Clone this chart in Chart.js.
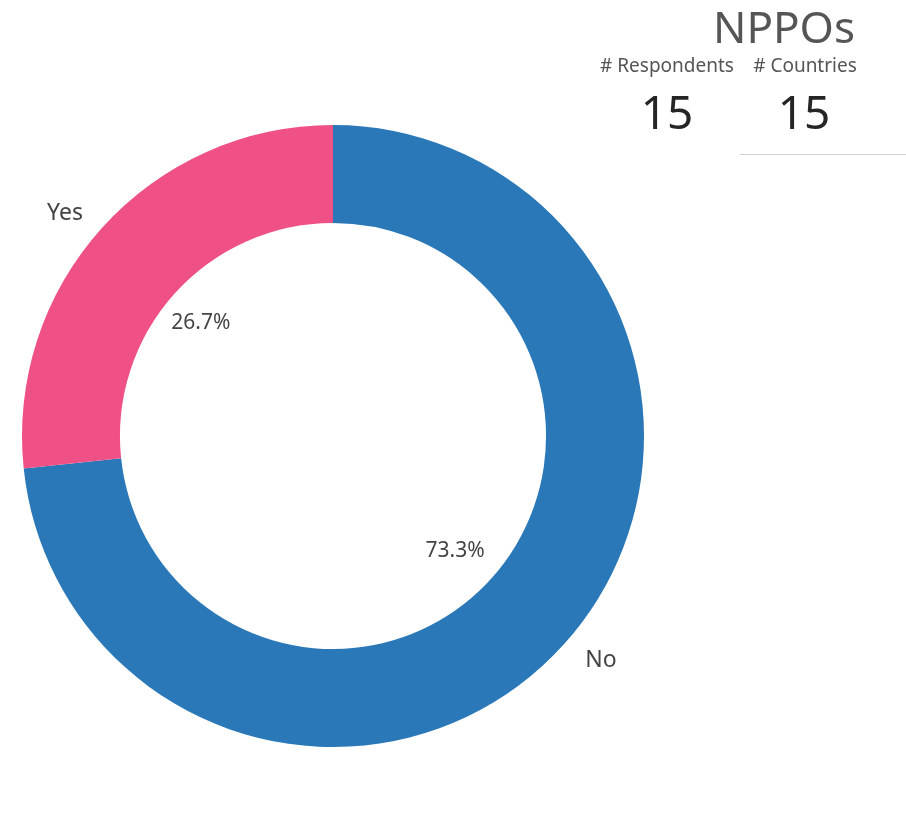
<!DOCTYPE html>
<html lang="en">
<head>
    <meta charset="UTF-8">
    <title>NPPOs</title>
    <script src="https://cdn.jsdelivr.net/npm/chart.js"></script>
    <style>
        body {
            margin: 0;
            background: #fff;
            font-family: "Noto Sans", "Open Sans", sans-serif;
        }
        .wrap {
            position: relative;
            width: 906px;
            height: 826px;
        }
        .title {
            position: absolute;
            left: 684px;
            width: 200px;
            top: -4px;
            text-align: center;
            font-size: 44px;
            color: #555;
        }
        .card-label {
            position: absolute;
            top: 52px;
            width: 150px;
            text-align: center;
            font-size: 19px;
            color: #555;
        }
        .card-value {
            position: absolute;
            top: 80px;
            width: 150px;
            text-align: center;
            font-size: 46px;
            color: #252525;
        }
        .rule {
            position: absolute;
            left: 740px;
            top: 154px;
            width: 166px;
            border-top: 1px solid #d0d0d0;
        }
    </style>
</head>
<body>
<div class="wrap">
    <canvas id="donut" width="906" height="826"></canvas>
    <div class="title">NPPOs</div>
    <div class="card-label" style="left:592px"># Respondents</div>
    <div class="card-label" style="left:730px"># Countries</div>
    <div class="card-value" style="left:592px" id="respondents"></div>
    <div class="card-value" style="left:729px" id="countries"></div>
    <div class="rule"></div>
</div>
<script>
    const categories = ['No', 'Yes'];
    const counts = [11, 4];
    const sliceColors = ['#2a78b8', '#ef5085'];
    const respondents = 15;
    const countries = 15;

    document.getElementById('respondents').textContent = respondents;
    document.getElementById('countries').textContent = countries;

    // slice name outside the ring, share inside the hole
    const sliceLabels = {
        id: 'sliceLabels',
        afterDatasetsDraw(chart) {
            const ctx = chart.ctx;
            const meta = chart.getDatasetMeta(0);
            const total = counts.reduce((a, b) => a + b, 0);
            ctx.save();
            ctx.textAlign = 'center';
            ctx.textBaseline = 'middle';
            meta.data.forEach((arc, i) => {
                const p = arc.getProps(['x', 'y', 'startAngle', 'endAngle', 'outerRadius'], true);
                const mid = (p.startAngle + p.endAngle) / 2;
                const cos = Math.cos(mid), sin = Math.sin(mid);
                const outR = p.outerRadius * 1.115;
                const inR = p.outerRadius * 0.55;
                ctx.fillStyle = '#444';
                ctx.font = '23px "Noto Sans", sans-serif';
                ctx.fillText(categories[i], p.x + cos * outR * 1.04, p.y + sin * outR * 0.963 + 1);
                ctx.font = '21px "Noto Sans", sans-serif';
                const pct = (counts[i] / total * 100).toFixed(1) + '%';
                ctx.fillText(pct, p.x + cos * inR - 5, p.y + sin * inR + 1);
            });
            ctx.restore();
        }
    };

    new Chart(document.getElementById('donut'), {
        type: 'doughnut',
        data: {
            labels: categories,
            datasets: [{
                data: counts,
                backgroundColor: sliceColors,
                borderWidth: 0
            }]
        },
        options: {
            responsive: false,
            animation: false,
            cutout: '68.5%',
            layout: {
                padding: { left: 22, right: 262, top: 125, bottom: 79 }
            },
            plugins: {
                legend: { display: false },
                tooltip: { enabled: false }
            }
        },
        plugins: [sliceLabels]
    });
</script>
</body>
</html>
